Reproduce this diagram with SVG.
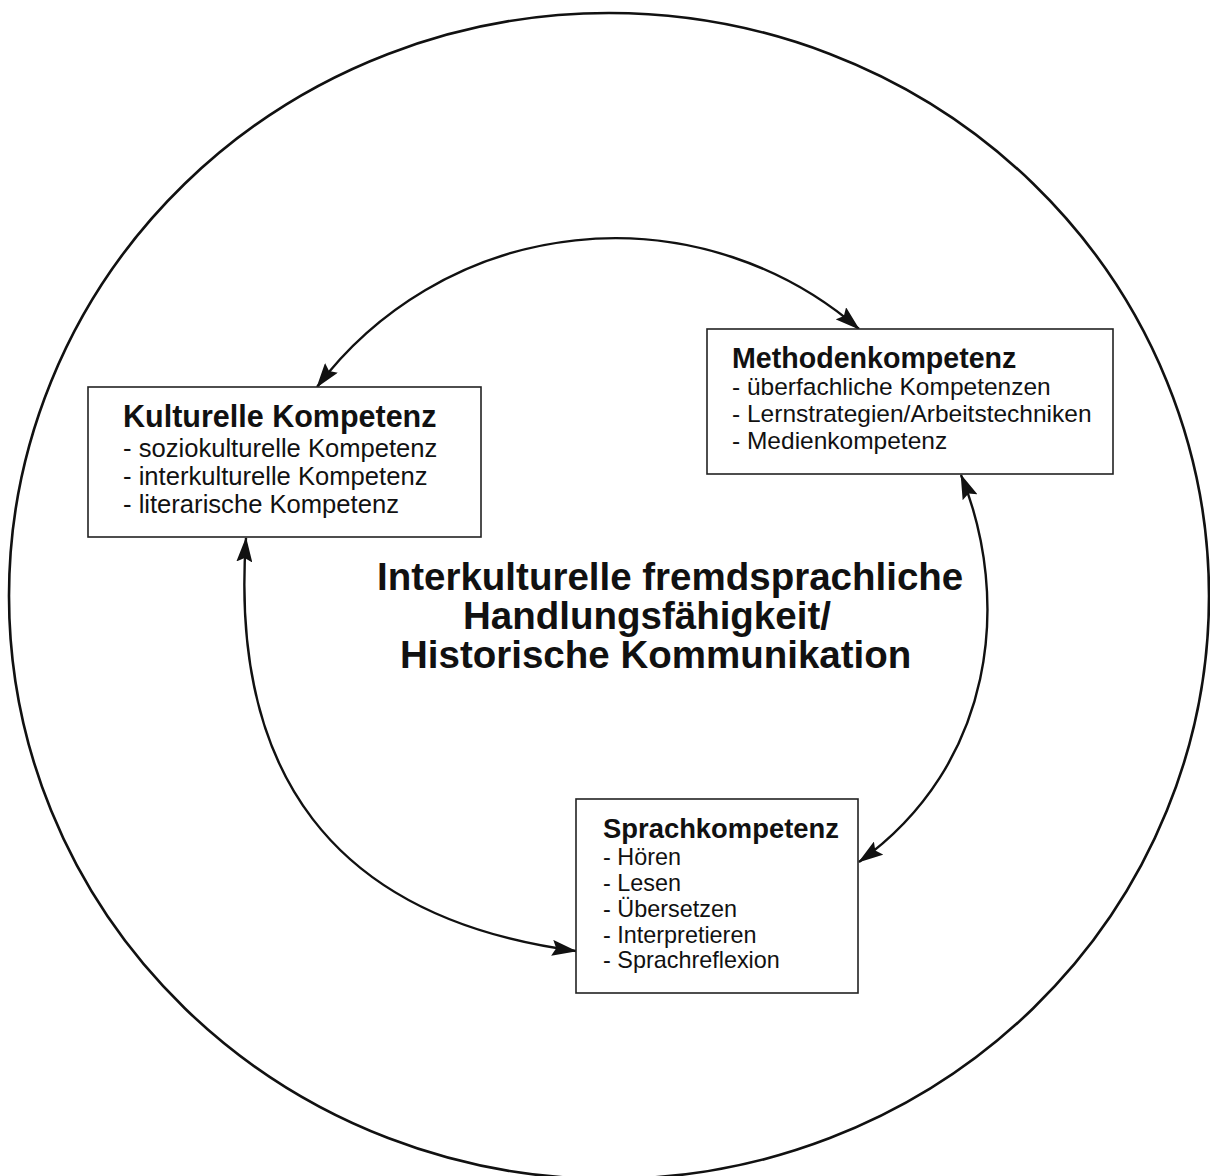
<svg xmlns="http://www.w3.org/2000/svg" width="1210" height="1176" viewBox="0 0 1210 1176">
  <style>
    .box { fill: #ffffff; stroke: #222222; stroke-width: 1.6; }
    .title { font-family: "Liberation Sans", Arial, sans-serif; font-weight: bold; fill: #111111; }
    .body { font-family: "Liberation Sans", Arial, sans-serif; fill: #111111; }
    .center { font-family: "Liberation Sans", Arial, sans-serif; font-weight: bold; font-size: 38.5px; fill: #111111; }
    .conn { fill: none; stroke: #111111; stroke-width: 2.4; marker-start: url(#arrow); marker-end: url(#arrow); }
  </style>
  <defs>
    <marker id="arrow" viewBox="0 0 25 16" refX="24" refY="8" markerWidth="25" markerHeight="16" markerUnits="userSpaceOnUse" orient="auto-start-reverse">
      <path d="M0,0 L25,8 L0,16 L4,8 z" fill="#111111"/>
    </marker>
  </defs>
  <rect width="1210" height="1176" fill="#ffffff"/>

  <g id="outer-circle">
    <ellipse cx="609" cy="596" rx="600" ry="583" fill="none" stroke="#111111" stroke-width="2.6"/>
  </g>

  <g id="connectors">
    <path class="conn" d="M 317,387 A 373,373 0 0 1 859,329"/>
    <path class="conn" d="M 246,538 C 230,770 330,918 576,951"/>
    <path class="conn" d="M 961,475 C 1012,600 995,765 859,862"/>
  </g>

  <g id="node-kulturelle">
    <rect class="box" x="88" y="387" width="393" height="150"/>
    <text class="title" x="123" y="427" font-size="30.5px">Kulturelle Kompetenz</text>
    <text class="body" x="123" y="457" font-size="25.6px">- soziokulturelle Kompetenz</text>
    <text class="body" x="123" y="485" font-size="25.6px">- interkulturelle Kompetenz</text>
    <text class="body" x="123" y="513" font-size="25.6px">- literarische Kompetenz</text>
  </g>

  <g id="node-methoden">
    <rect class="box" x="707" y="329" width="406" height="145"/>
    <text class="title" x="732" y="368" font-size="28.6px">Methodenkompetenz</text>
    <text class="body" x="732" y="395" font-size="24.5px">- überfachliche Kompetenzen</text>
    <text class="body" x="732" y="422" font-size="24.5px">- Lernstrategien/Arbeitstechniken</text>
    <text class="body" x="732" y="449" font-size="24.5px">- Medienkompetenz</text>
  </g>

  <g id="node-sprach">
    <rect class="box" x="576" y="799" width="282" height="194"/>
    <text class="title" x="603" y="838" font-size="27.4px">Sprachkompetenz</text>
    <text class="body" x="603" y="865" font-size="23.4px">- Hören</text>
    <text class="body" x="603" y="891" font-size="23.4px">- Lesen</text>
    <text class="body" x="603" y="917" font-size="23.4px">- Übersetzen</text>
    <text class="body" x="603" y="943" font-size="23.4px">- Interpretieren</text>
    <text class="body" x="603" y="968" font-size="23.4px">- Sprachreflexion</text>
  </g>

  <g id="node-center">
    <text class="center" x="377" y="590">Interkulturelle fremdsprachliche</text>
    <text class="center" x="463" y="629">Handlungsfähigkeit/</text>
    <text class="center" x="400" y="668">Historische Kommunikation</text>
  </g>
</svg>
